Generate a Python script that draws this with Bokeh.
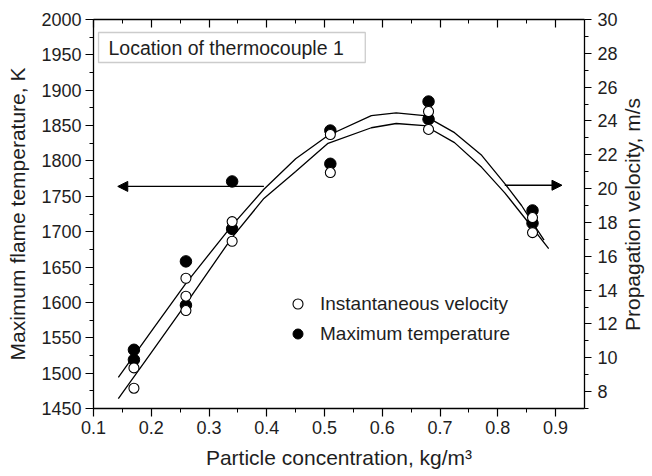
import math
from bokeh.plotting import figure
from bokeh.models import (Range1d, LinearAxis, Arrow, NormalHead, BoxAnnotation, Label,
                          Legend, LegendItem, SingleIntervalTicker, CustomJSTickFormatter)
from bokeh.embed import file_html
from bokeh.resources import INLINE

# ---------------- data ----------------
temp_x = [0.17, 0.17, 0.26, 0.26, 0.34, 0.34, 0.51, 0.51, 0.68, 0.68, 0.86, 0.86]
temp_y = [1533, 1519, 1658, 1596, 1771, 1704, 1843, 1796, 1884, 1859, 1730, 1712]

vel_x = [0.17, 0.17, 0.26, 0.26, 0.26, 0.34, 0.34, 0.51, 0.51, 0.68, 0.68, 0.86, 0.86]
vel_y = [9.40, 8.20, 14.70, 13.64, 12.79, 18.05, 16.89, 23.20, 20.95, 24.56, 23.50, 18.29, 17.40]

# fitted curve for temperature (left axis)
temp_fit_x = [0.143, 0.20, 0.26, 0.34, 0.395, 0.45, 0.506, 0.581, 0.624, 0.673, 0.725, 0.772, 0.812, 0.841, 0.864, 0.880]
temp_fit_y = [1494, 1559, 1627, 1709, 1760, 1803, 1836, 1864, 1868, 1864, 1840, 1808, 1768, 1737, 1708, 1688]

# fitted curve for velocity (right axis)
vel_fit_x = [0.143, 0.20, 0.26, 0.34, 0.395, 0.45, 0.506, 0.581, 0.624, 0.673, 0.725, 0.772, 0.812, 0.847, 0.888]
vel_fit_y = [7.59, 10.30, 13.19, 17.12, 19.42, 21.01, 22.68, 23.60, 23.85, 23.73, 22.72, 21.26, 19.75, 18.25, 16.45]

x_label = "Particle concentration, kg/m\u00b3"
y_label = "Maximum flame temperature, K"
y2_label = "Propagation velocity, m/s"
box_text = "Location of thermocouple 1"
legend_labels = ["Instantaneous velocity", "Maximum temperature"]

FONT = "Liberation Sans"
TXT = "#1e1e1e"

p = figure(width=652, height=476, output_backend="svg", toolbar_location=None,
           x_range=Range1d(0.1, 0.95), y_range=Range1d(1450, 2000),
           min_border_left=93, min_border_right=68, min_border_top=19, min_border_bottom=68)
p.extra_y_ranges = {"vel": Range1d(7, 30)}
p.grid.visible = False
p.outline_line_color = None
p.background_fill_color = "white"
p.border_fill_color = "white"


def style(ax, tick_out=8, tick_in=0, mtick_out=4, mtick_in=0):
    ax.axis_line_color = "black"
    ax.axis_line_width = 1.3
    ax.major_tick_line_color = "black"
    ax.minor_tick_line_color = "black"
    ax.major_tick_line_width = 1.2
    ax.minor_tick_line_width = 1.0
    ax.major_tick_out = tick_out
    ax.major_tick_in = tick_in
    ax.minor_tick_out = mtick_out
    ax.minor_tick_in = mtick_in
    ax.major_label_text_font = FONT
    ax.major_label_text_font_size = "18px"
    ax.major_label_text_color = TXT
    ax.axis_label_text_font = FONT
    ax.axis_label_text_font_size = "21px"
    ax.axis_label_text_font_style = "normal"
    ax.axis_label_text_color = TXT


xax = p.xaxis[0]
xax.ticker = SingleIntervalTicker(interval=0.1, num_minor_ticks=2)
style(xax)
xax.axis_label = x_label
xax.major_label_standoff = 4
xax.axis_label_standoff = 9

yax = p.yaxis[0]
yax.ticker = SingleIntervalTicker(interval=50, num_minor_ticks=2)
style(yax)
yax.axis_label = y_label
yax.major_label_standoff = 4
yax.axis_label_standoff = 9

rax = LinearAxis(y_range_name="vel", ticker=SingleIntervalTicker(interval=2, num_minor_ticks=2))
style(rax, tick_out=7, mtick_out=4)
rax.major_label_standoff = 6
p.add_layout(rax, "right")

# right axis title in its own side panel, reading bottom-to-top like the reference
p.add_layout(Label(x=12, y=194, x_units="screen", y_units="screen", angle=math.pi / 2,
                   text=y2_label, text_align="center", text_baseline="middle",
                   text_font=FONT, text_font_size="21px", text_color=TXT), "right")

tax = LinearAxis(ticker=SingleIntervalTicker(interval=0.1, num_minor_ticks=2),
                 formatter=CustomJSTickFormatter(code="return ''"))
style(tax, tick_out=0, tick_in=8, mtick_out=0, mtick_in=4)
tax.major_label_standoff = 0
p.add_layout(tax, "above")

# fitted curves
p.line(temp_fit_x, temp_fit_y, line_color="black", line_width=1.3)
p.line(vel_fit_x, vel_fit_y, y_range_name="vel", line_color="black", line_width=1.3)

# points
r_temp = p.scatter(temp_x, temp_y, size=11.5, fill_color="black", line_color="black")
r_vel = p.scatter(vel_x, vel_y, y_range_name="vel", size=10, fill_color="white",
                  line_color="black", line_width=1.1)

# arrows
p.add_layout(Arrow(x_start=0.395, y_start=1764, x_end=0.142, y_end=1764,
                   line_color="black", line_width=1.3,
                   end=NormalHead(size=10, fill_color="black", line_color="black")))
p.add_layout(Arrow(x_start=0.812, y_start=20.2, x_end=0.911, y_end=20.2, y_range_name="vel",
                   line_color="black", line_width=1.3,
                   end=NormalHead(size=10, fill_color="black", line_color="black")))

# boxed label
p.add_layout(BoxAnnotation(left=0.1087, right=0.5705, top=1981.6, bottom=1939.2,
                           fill_color=None, line_color="#555555", line_width=1.3))
p.add_layout(Label(x=0.126, y=1960.4, text=box_text, text_baseline="middle",
                   text_font=FONT, text_font_size="19.5px", text_color=TXT))

legend = Legend(items=[LegendItem(label=legend_labels[0], renderers=[r_vel]),
                       LegendItem(label=legend_labels[1], renderers=[r_temp])],
                location=(192, 61), orientation="vertical",
                background_fill_alpha=0, border_line_color=None,
                padding=0, margin=0, spacing=3,
                glyph_width=25, glyph_height=27, label_height=27, label_standoff=10,
                label_text_font=FONT, label_text_font_size="19px", label_text_color=TXT)
p.add_layout(legend, "center")

open("out.html", "w").write(file_html(p, INLINE))
